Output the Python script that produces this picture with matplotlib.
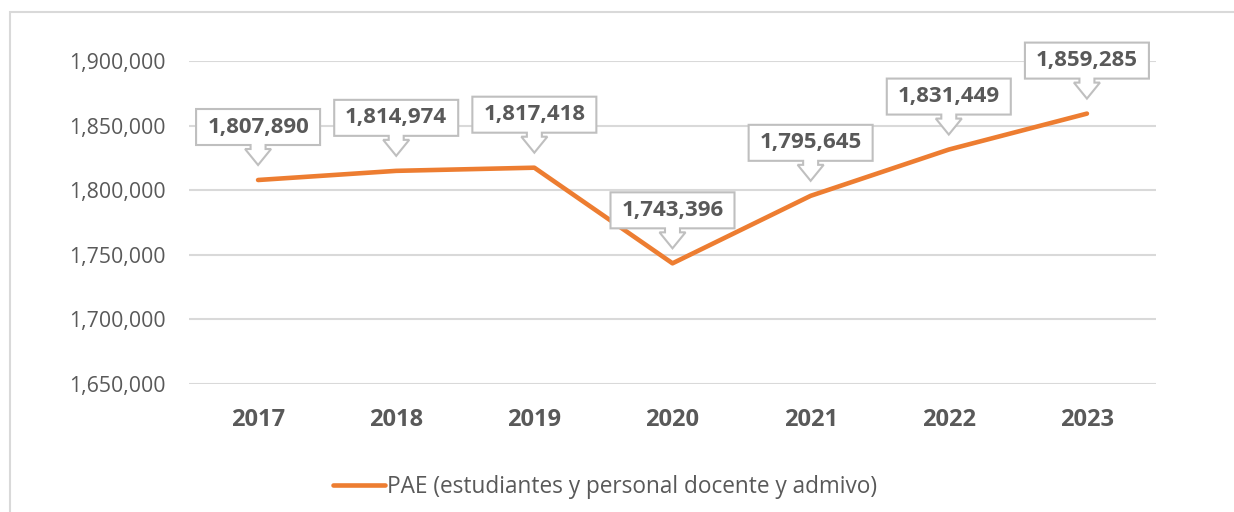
import matplotlib
matplotlib.use('Agg')
import matplotlib.pyplot as plt
import matplotlib.transforms as mtransforms
from matplotlib.patches import Polygon, Rectangle
from matplotlib.ticker import FuncFormatter

plt.rcParams['font.family'] = ['Open Sans', 'DejaVu Sans']

years = ['2017', '2018', '2019', '2020', '2021', '2022', '2023']
pae = [1807890, 1814974, 1817418, 1743396, 1795645, 1831449, 1859285]
serie = 'PAE (estudiantes y personal docente y admivo)'

naranja = '#ED7D31'
gris_txt = '#595959'
gris_linea = '#D9D9D9'
gris_borde = '#BFBFBF'

fig = plt.figure(figsize=(12.34, 5.12), dpi=100)
ax = fig.add_axes([189 / 1234, 1 - 384 / 512, (1156 - 189) / 1234, (384 - 61) / 512])

# marco del area del grafico
fig.patches.append(Rectangle((9.5 / 1234, -0.1), 1.1, 1 - 11.5 / 512 + 0.1,
                             transform=fig.transFigure, fill=False,
                             edgecolor=gris_linea, linewidth=1.5))

x = list(range(len(years)))
ax.plot(x, pae, color=naranja, linewidth=3.3, solid_capstyle='round',
        label=serie, zorder=3)

ax.set_xlim(-0.5, len(years) - 0.5)
ax.set_ylim(1650000, 1900000)
ax.set_yticks(range(1650000, 1900001, 50000))
ax.yaxis.set_major_formatter(FuncFormatter(lambda v, p: f'{int(v):,}'))
ax.set_xticks(x)
ax.set_xticklabels(years, fontweight='bold', fontsize=17, color=gris_txt)
ax.tick_params(axis='y', length=0, pad=17, labelsize=15.3, labelcolor=gris_txt)
ax.tick_params(axis='x', length=0, pad=17)
ax.grid(axis='y', color=gris_linea, linewidth=1.5)
ax.set_axisbelow(True)
for s in ax.spines.values():
    s.set_visible(False)

# etiquetas tipo llamada con flecha hacia abajo (offsets en pixeles)
hw = 62
forma = [(0, 15), (13, 31), (7.5, 31), (7.5, 35), (hw, 35), (hw, 71),
         (-hw, 71), (-hw, 35), (-7.5, 35), (-7.5, 31), (-13, 31)]
for xi, v in zip(x, pae):
    tr = mtransforms.Affine2D() + mtransforms.ScaledTranslation(xi, v, ax.transData)
    ax.add_patch(Polygon(forma, closed=True, facecolor='white', edgecolor=gris_borde,
                         linewidth=1.5, transform=tr, clip_on=False, zorder=4))
    ax.annotate(f'{v:,}', (xi, v), xytext=(0, 53), textcoords='offset pixels',
                ha='center', va='center', fontsize=16, fontweight='bold',
                color=gris_txt, zorder=5, annotation_clip=False)

fig.legend(loc='center left', bbox_to_anchor=(333 / 1234, 1 - 487 / 512),
           frameon=False, borderpad=0, borderaxespad=0, handlelength=2.3,
           handletextpad=0.1, prop={'size': 16.3}, labelcolor=gris_txt)

fig.savefig('out.png', dpi=100)
